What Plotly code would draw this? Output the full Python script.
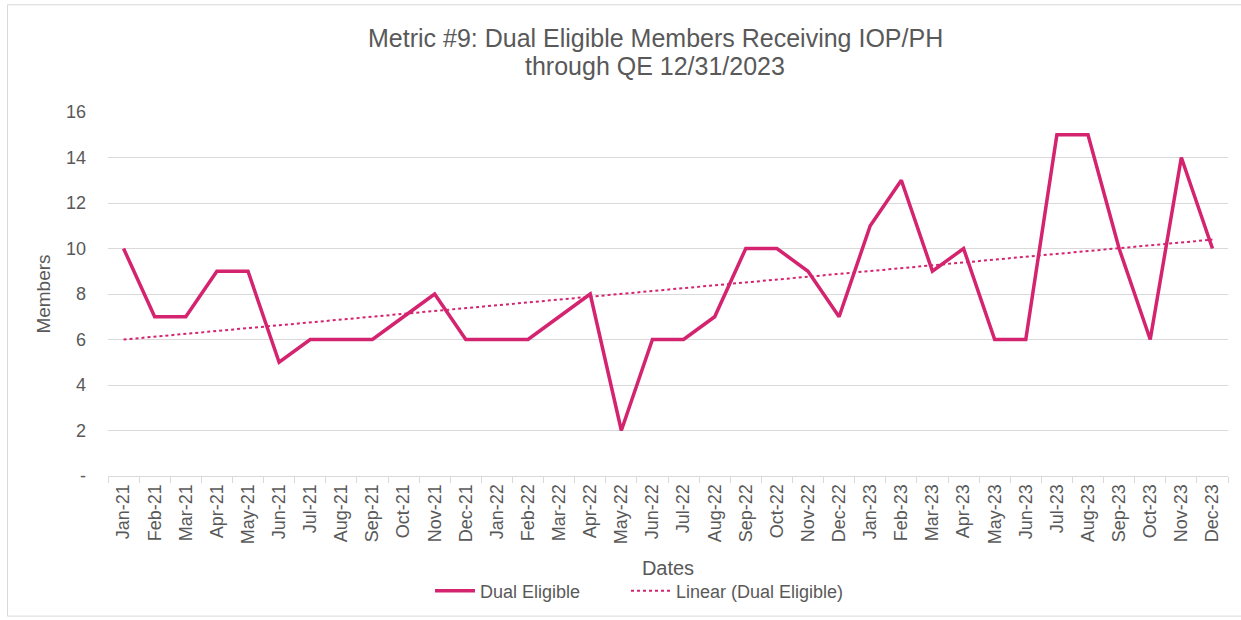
import numpy as np
import plotly.graph_objects as go

months = ["Jan-21","Feb-21","Mar-21","Apr-21","May-21","Jun-21","Jul-21","Aug-21","Sep-21","Oct-21","Nov-21","Dec-21",
          "Jan-22","Feb-22","Mar-22","Apr-22","May-22","Jun-22","Jul-22","Aug-22","Sep-22","Oct-22","Nov-22","Dec-22",
          "Jan-23","Feb-23","Mar-23","Apr-23","May-23","Jun-23","Jul-23","Aug-23","Sep-23","Oct-23","Nov-23","Dec-23"]
dual_eligible = [10,7,7,9,9,5,6,6,6,7,8,6,
                 6,6,7,8,2,6,6,7,10,10,9,7,
                 11,13,9,10,6,6,15,15,10,6,14,10]
y_ticks = [0,2,4,6,8,10,12,14,16]
y_tick_labels = ["-","2","4","6","8","10","12","14","16"]
title_lines = ["Metric #9: Dual Eligible Members Receiving IOP/PH", "through QE 12/31/2023"]

idx = np.arange(len(dual_eligible))
slope, intercept = np.polyfit(idx, dual_eligible, 1)
trend = slope * idx + intercept

PINK = "#D4246F"
TXT = "#595959"
GRID = "#D9D9D9"
FONT = "Liberation Sans, Arial, sans-serif"

fig = go.Figure()
fig.add_trace(go.Scatter(x=months, y=dual_eligible, mode="lines", name="Dual Eligible",
                         line=dict(color=PINK, width=3.5), legend="legend"))
fig.add_trace(go.Scatter(x=months, y=trend, mode="lines", name="Linear (Dual Eligible)",
                         line=dict(color=PINK, width=2, dash="dot"), legend="legend2"))

L, R, T, B = 108, 13, 112, 143
W, H = 1241, 620
pw, ph = W - L - R, H - T - B

def px_x(p):
    return (p - L) / pw

def px_y(p):
    return (H - B - p) / ph

fig.add_shape(type="rect", xref="paper", yref="paper",
              x0=px_x(7.5), x1=px_x(1250), y0=px_y(617.5), y1=px_y(4.5),
              line=dict(color="#D9D9D9", width=1), fillcolor="rgba(0,0,0,0)", layer="below")

for line_text, ypix in zip(title_lines, [38, 66]):
    fig.add_annotation(text=line_text, xref="paper", yref="paper", x=px_x(655), y=px_y(ypix),
                       xanchor="center", yanchor="middle", showarrow=False,
                       font=dict(size=25, color=TXT, family=FONT))

legend_common = dict(orientation="h", xanchor="left", y=px_y(591), yanchor="middle",
                     font=dict(size=18, color=TXT), itemwidth=40, bgcolor="rgba(0,0,0,0)")

fig.update_layout(
    width=W, height=H,
    margin=dict(l=L, r=R, t=T, b=B),
    paper_bgcolor="white", plot_bgcolor="white",
    font=dict(family=FONT, color=TXT, size=18),
    showlegend=True,
    legend=dict(x=px_x(430), **legend_common),
    legend2=dict(x=px_x(626), **legend_common),
    xaxis=dict(type="category", tickangle=-90, tickson="boundaries", ticks="outside", ticklen=6,
               tickcolor=GRID, showline=True, linecolor=GRID, linewidth=1, showgrid=False,
               tickfont=dict(size=18, color=TXT),
               title=dict(text="Dates", font=dict(size=20, color=TXT), standoff=17),
               range=[-0.5, len(months) - 0.5]),
    yaxis=dict(range=[0, 16], tickvals=y_ticks, ticktext=y_tick_labels, showgrid=True,
               gridcolor=GRID, gridwidth=1, zeroline=False, showline=False,
               tickfont=dict(size=18, color=TXT), ticks="", ticklabelstandoff=21,
               title=dict(text="Members", font=dict(size=19, color=TXT), standoff=10)),
)

fig.write_html("out.html", config={"displayModeBar": False},
               post_script="document.body.style.margin='0px';")
